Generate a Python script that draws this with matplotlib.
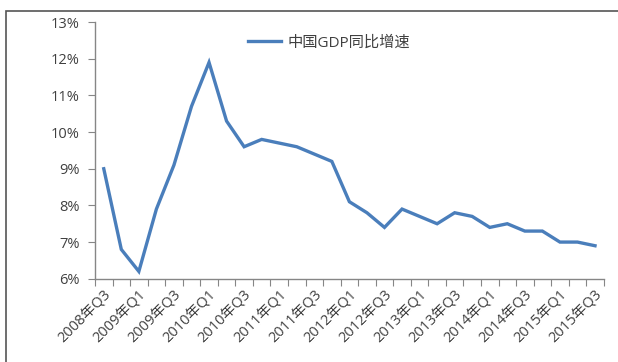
import matplotlib

matplotlib.use("Agg")
import matplotlib.pyplot as plt
from matplotlib.patches import Rectangle

plt.rcParams["font.family"] = ["Open Sans", "Noto Sans CJK SC", "DejaVu Sans"]

# quarterly GDP growth, year on year (%), 2008Q3 .. 2015Q3
quarters = [
    "2008年Q3", "2008年Q4",
    "2009年Q1", "2009年Q2", "2009年Q3", "2009年Q4",
    "2010年Q1", "2010年Q2", "2010年Q3", "2010年Q4",
    "2011年Q1", "2011年Q2", "2011年Q3", "2011年Q4",
    "2012年Q1", "2012年Q2", "2012年Q3", "2012年Q4",
    "2013年Q1", "2013年Q2", "2013年Q3", "2013年Q4",
    "2014年Q1", "2014年Q2", "2014年Q3", "2014年Q4",
    "2015年Q1", "2015年Q2", "2015年Q3",
]
gdp_yoy = [
    9.0, 6.8,
    6.2, 7.9, 9.1, 10.7,
    11.9, 10.3, 9.6, 9.8,
    9.7, 9.6, 9.4, 9.2,
    8.1, 7.8, 7.4, 7.9,
    7.7, 7.5, 7.8, 7.7,
    7.4, 7.5, 7.3, 7.3,
    7.0, 7.0, 6.9,
]
y_ticks = [6, 7, 8, 9, 10, 11, 12, 13]
series_name = "中国GDP同比增速"

LINE = "#4a7ebb"
AXIS = "#868686"
TEXT = "#404040"

fig = plt.figure(figsize=(6.18, 3.62), dpi=100)
ax = fig.add_axes([0.1537, 0.230, 0.8233, 0.709])

x = list(range(len(gdp_yoy)))
ax.plot(x, gdp_yoy, color=LINE, lw=2.4, solid_joinstyle="miter", label=series_name)

ax.set_xlim(-0.5, len(gdp_yoy) - 0.5)
ax.set_ylim(6, 13)
ax.set_yticks(y_ticks)
ax.set_yticklabels([f"{v}%" for v in y_ticks])

# ticks on category boundaries, labels on every second category
ax.set_xticks([i - 0.5 for i in range(len(gdp_yoy) + 1)])
ax.set_xticklabels([])
ax.tick_params(axis="x", which="major", length=5, color=AXIS, direction="out")
ax.set_xticks(x[::2], minor=True)
ax.set_xticklabels(quarters[::2], minor=True, rotation=45, ha="right",
                   va="top", rotation_mode="anchor", fontsize=10.5, color=TEXT)
ax.tick_params(axis="x", which="minor", length=0, pad=6)
ax.tick_params(axis="y", length=5, color=AXIS, labelsize=10.5, labelcolor=TEXT, pad=6)

for side in ("top", "right"):
    ax.spines[side].set_visible(False)
for side in ("left", "bottom"):
    ax.spines[side].set_color(AXIS)
    ax.spines[side].set_linewidth(1.0)

ax.legend(loc="center", bbox_to_anchor=(0.46, 0.918), frameon=False,
          fontsize=11, labelcolor=TEXT, handlelength=2.2, handletextpad=0.4)

fig.patches.append(Rectangle((6 / 618, -0.1), 1.2, 1 - 11 / 362 + 0.1,
                             transform=fig.transFigure, fill=False,
                             edgecolor="#555555", lw=1.2))

fig.savefig("out.png", dpi=100)
